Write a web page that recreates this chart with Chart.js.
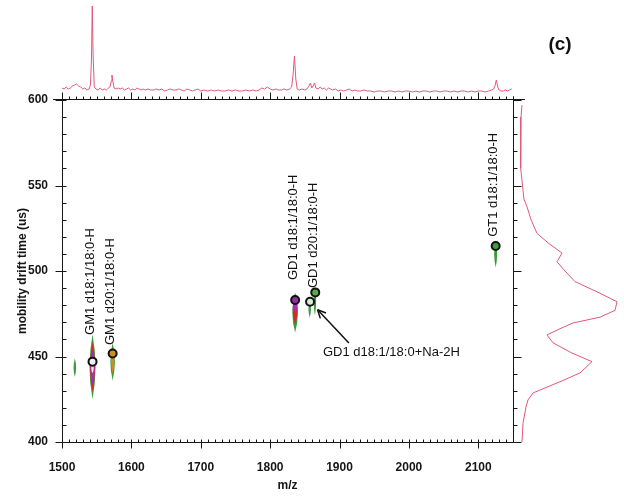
<!DOCTYPE html>
<html>
<head>
<meta charset="utf-8">
<script src="https://cdn.jsdelivr.net/npm/chart.js@4.4.1/dist/chart.umd.min.js"></script>
<style>
  html, body { margin: 0; padding: 0; background: #fff; }
  #wrap { position: relative; width: 624px; height: 497px; }
  #wrap canvas { position: absolute; }
</style>
</head>
<body>
<div id="wrap">
  <canvas id="main" width="624" height="497" style="left:0;top:0"></canvas>
  <canvas id="top" width="624" height="100" style="left:0;top:0"></canvas>
  <canvas id="side" width="111" height="497" style="left:513px;top:0"></canvas>
</div>
<script>
// spots (circled features)
const spotMz    = [1544, 1573, 1836, 1857.5, 1865, 2125];
const spotDrift = [447, 451.8, 483, 482, 487.5, 514.6];
const spotNames = ['GM1 d18:1/18:0-H', 'GM1 d20:1/18:0-H', 'GD1 d18:1/18:0-H',
                   'GD1 d18:1/18:0+Na-2H', 'GD1 d20:1/18:0-H', 'GT1 d18:1/18:0-H'];
// where the vertical label starts (drift time), null = arrow note
const labelDrift = [462.6, 456.7, 494.7, null, 490, 520];
const noteAt = [1876, 452.6]; // m/z, drift of the arrow note

// intensity streaks in the 2D map
const blobMz   = [1518.5, 1544, 1573, 1836, 1857, 1864.5, 2125];
const blobLow  = [438, 425, 436, 464, 472.5, 474, 502];
const blobHigh = [449, 463, 458, 487.5, 483, 491, 518];

// summed spectra  [m/z, intensity]  and  [drift, intensity]
const topSpectrum = [
  [1500,11],[1503,10],[1506,12],[1509,10],[1512,11],[1515,13],[1518,14],[1521,15],[1524,13],[1527,12],
  [1530,10],[1533,11],[1536,9],[1539,10],[1541,14],[1542.5,40],[1543.6,93],[1544.8,45],[1546.5,12],[1549,10],
  [1552,9],[1555,11],[1558,9],[1561,10],[1564,9],[1567,11],[1569,12],[1571,18],[1572,24],[1573,19],
  [1575,11],[1578,10],[1581,11],[1584,10],[1587,11],[1590,9],[1593,10],[1596,11],[1599,9],[1602,10],
  [1605,9],[1608,11],[1611,10],[1614,9],[1617,10],[1620,9],[1624,10],[1628,9],[1632,9],[1636,10],
  [1640,9],[1644,10],[1648,8],[1652,9],[1656,10],[1660,9],[1664,9],[1668,10],[1672,9],[1676,8],
  [1680,10],[1684,9],[1688,8],[1692,9],[1696,10],[1700,8],[1705,9],[1710,8],[1715,9],[1720,8],
  [1725,9],[1730,8],[1735,8],[1740,9],[1745,8],[1750,9],[1755,8],[1760,8],[1765,9],[1770,8],
  [1775,9],[1780,8],[1784,9],[1788,11],[1792,10],[1796,12],[1800,10],[1804,9],[1808,10],[1812,9],
  [1816,9],[1820,10],[1824,9],[1828,10],[1831,12],[1833,24],[1835,43],[1837,20],[1839,10],[1842,9],
  [1846,10],[1850,9],[1853,10],[1856,13],[1858,16],[1860,11],[1862,13],[1864,16],[1866,11],[1869,10],
  [1872,12],[1875,10],[1878,11],[1881,9],[1884,11],[1887,10],[1890,9],[1894,10],[1898,8],[1902,9],
  [1906,8],[1910,9],[1914,10],[1918,8],[1922,9],[1926,8],[1930,8],[1935,9],[1940,8],[1945,8],
  [1950,7],[1955,8],[1960,8],[1965,7],[1970,8],[1975,8],[1980,7],[1985,8],[1990,7],[1995,8],
  [2000,8],[2005,7],[2010,8],[2015,7],[2020,8],[2025,8],[2030,7],[2035,8],[2040,8],[2045,7],
  [2050,8],[2055,8],[2060,7],[2065,8],[2070,7],[2075,8],[2080,8],[2085,7],[2090,8],[2095,7],
  [2100,8],[2105,8],[2110,7],[2115,8],[2119,9],[2122,10],[2124,13],[2126,19],[2128,12],[2130,9],
  [2133,8],[2136,8],[2139,9],[2142,8],[2145,9],[2148,10]
];
const sideSpectrum = [
  [597,8],[590,7],[580,7],[570,6],[560,7],[553,8],[547,9],[542,10],[537.6,13],[530,17],
  [522,23],[516,35],[510.5,48],[505.4,43],[500,51],[493.8,61],[487,86],[482,103],[477,101],[473,86],
  [469.6,59],[466,45],[462.6,33],[458,39],[452,58],[447,78],[440.4,66],[436,49],[431.6,31],[428.7,19],
  [424.6,14],[420.5,12],[411,9],[400,8]
];

const FONT = "'Liberation Sans', Arial, sans-serif";
const INK = '#161616';
const PINK = '#e2587a';
Chart.defaults.font.family = FONT;
Chart.defaults.color = INK;

const G = '#3b9b3b', R = '#d42a2a', M = '#a82ccc', O = '#d98a1c';
// layers per streak: [from, to (fraction of length), width px, colour]
const blobLook = [
  [[0, 1, 2.5, G]],
  [[0, 1, 6, G], [0.12, 0.9, 5, R], [0.25, 0.78, 4, M], [0.44, 0.6, 2.5, '#f2e6f6']],
  [[0, 1, 4.5, G], [0.2, 0.82, 3, O]],
  [[0, 1, 5.5, G], [0.04, 0.8, 5, R], [0.04, 0.5, 4.5, M]],
  [[0, 1, 2.5, G]],
  [[0, 1, 2.5, G]],
  [[0, 1, 3, G]]
];

function lens(ctx, x, yTop, yBot, w, color) {
  const ym = (yTop + yBot) / 2;
  ctx.beginPath();
  ctx.moveTo(x, yTop);
  ctx.quadraticCurveTo(x + w, ym, x, yBot);
  ctx.quadraticCurveTo(x - w, ym, x, yTop);
  ctx.fillStyle = color;
  ctx.fill();
}

function seg(ctx, x1, y1, x2, y2) {
  ctx.beginPath();
  ctx.moveTo(x1, y1);
  ctx.lineTo(x2, y2);
  ctx.stroke();
}

const mapDecor = {
  id: 'mapDecor',
  beforeDatasetsDraw(chart) {
    const {ctx, scales: {x, y}} = chart;
    ctx.save();
    blobMz.forEach((mz, i) => {
      const px = x.getPixelForValue(mz);
      const yt = y.getPixelForValue(blobHigh[i]);
      const yb = y.getPixelForValue(blobLow[i]);
      const h = yb - yt;
      blobLook[i].forEach(([a, b, w, c]) => lens(ctx, px, yt + a * h, yt + b * h, w, c));
    });
    ctx.restore();
  },
  afterDraw(chart) {
    const {ctx, chartArea: ca, scales: {x, y}} = chart;
    ctx.save();
    ctx.strokeStyle = INK;
    ctx.lineWidth = 1;
    const L = Math.round(ca.left) + 0.5, Rr = Math.round(ca.right) + 0.5;
    const T = Math.round(ca.top) - 0.5, B = Math.round(ca.bottom) + 0.5;
    // frame
    seg(ctx, 53, T, 525, T);
    seg(ctx, L, T, L, B);
    seg(ctx, L, B, Rr, B);
    seg(ctx, Rr, T - 3, Rr, B);
    // x ticks (top spectrum axis + bottom axis)
    x.ticks.forEach(t => {
      const px = Math.round(x.getPixelForValue(t.value)) + 0.5;
      const major = t.value % 100 === 0;
      seg(ctx, px, T, px, T - (major ? 7 : 3));
      if (major) seg(ctx, px, B + 6, px, B - 3);
      else seg(ctx, px, B, px, B - 3);
    });
    // y ticks (left axis + right axis)
    y.ticks.forEach(t => {
      const py = Math.round(y.getPixelForValue(t.value)) + 0.5;
      const major = t.value % 50 === 0;
      seg(ctx, major ? L - 7 : L, py, L + 4, py);
      seg(ctx, Rr, py, Rr + (major ? 8 : 4), py);
    });

    // labels
    ctx.fillStyle = '#111';
    ctx.font = '13px ' + FONT;
    spotNames.forEach((name, i) => {
      if (labelDrift[i] === null) return;
      const px = x.getPixelForValue(blobMz[Math.min(i + (i > 0 ? 1 : 1), blobMz.length - 1)]);
      const lx = x.getPixelForValue(spotMz[i]) - 2;
      const ly = y.getPixelForValue(labelDrift[i]);
      ctx.save();
      ctx.translate(lx, ly);
      ctx.rotate(-Math.PI / 2);
      ctx.textAlign = 'left';
      ctx.textBaseline = 'middle';
      ctx.fillText(name, 0, 0);
      ctx.restore();
    });

    // arrow note
    const nx = x.getPixelForValue(noteAt[0]);
    const ny = y.getPixelForValue(noteAt[1]);
    ctx.textAlign = 'left';
    ctx.textBaseline = 'middle';
    ctx.fillText(spotNames[3], nx, ny);
    const tx = nx + 26, ty = ny - 9;
    const cx = x.getPixelForValue(spotMz[3]);
    const cy = y.getPixelForValue(spotDrift[3]);
    const dx = tx - cx, dy = ty - cy, d = Math.hypot(dx, dy);
    const hx = cx + dx / d * 11, hy = cy + dy / d * 11;
    ctx.lineWidth = 1.5;
    ctx.strokeStyle = '#111';
    seg(ctx, tx, ty, hx, hy);
    const ang = Math.atan2(dy, dx);
    [0.45, -0.45].forEach(a => {
      seg(ctx, hx, hy, hx + Math.cos(ang + a) * 9, hy + Math.sin(ang + a) * 9);
    });

    // panel tag
    ctx.font = 'bold 19px ' + FONT;
    ctx.textAlign = 'center';
    ctx.fillText('(c)', 560, 45);
    ctx.restore();
  }
};

new Chart(document.getElementById('main'), {
  type: 'scatter',
  data: {
    datasets: [{
      data: spotMz.map((m, i) => ({x: m, y: spotDrift[i]})),
      pointRadius: 4,
      borderWidth: 2,
      borderColor: '#111',
      backgroundColor: ['#f4eef6', '#c98d22', '#9a2aa8', '#d8ecd2', '#4fae45', '#3f9f3f']
    }]
  },
  options: {
    responsive: false,
    animation: false,
    layout: { padding: { left: 0, right: 111, top: 100, bottom: 0 } },
    scales: {
      x: {
        type: 'linear', min: 1500, max: 2150,
        grid: { display: false, drawTicks: false },
        border: { display: false },
        ticks: {
          stepSize: 10, autoSkip: false, maxRotation: 0, padding: 18,
          font: { size: 12, weight: 'bold' },
          callback: v => (v % 100 === 0 ? String(v) : '')
        },
        title: { display: true, text: 'm/z', font: { size: 12, weight: 'bold' }, padding: { top: 0, bottom: 4 } },
        afterFit: s => { s.height = 55; }
      },
      y: {
        min: 400, max: 600,
        grid: { display: false, drawTicks: false },
        border: { display: false },
        ticks: {
          stepSize: 10, autoSkip: false, padding: 14,
          font: { size: 12, weight: 'bold' },
          callback: v => (v % 50 === 0 ? String(v) : '')
        },
        title: { display: true, text: 'mobility drift time (us)', font: { size: 12, weight: 'bold' }, padding: { top: 15, bottom: 0 } },
        afterFit: s => { s.width = 62; }
      }
    },
    plugins: { legend: { display: false }, tooltip: { enabled: false } }
  },
  plugins: [mapDecor]
});

new Chart(document.getElementById('top'), {
  type: 'scatter',
  data: {
    datasets: [{
      data: topSpectrum.map(p => ({x: p[0], y: p[1]})),
      showLine: true, borderColor: PINK, borderWidth: 1, pointRadius: 0
    }]
  },
  options: {
    responsive: false,
    animation: false,
    layout: { padding: { left: 62, right: 111, top: 3, bottom: 1 } },
    scales: {
      x: { type: 'linear', min: 1500, max: 2150, display: false },
      y: { min: 0, max: 96, display: false }
    },
    plugins: { legend: { display: false }, tooltip: { enabled: false } }
  }
});

new Chart(document.getElementById('side'), {
  type: 'scatter',
  data: {
    datasets: [{
      data: sideSpectrum.map(p => ({x: p[1], y: p[0]})),
      showLine: true, borderColor: PINK, borderWidth: 1, pointRadius: 0
    }]
  },
  options: {
    responsive: false,
    animation: false,
    layout: { padding: { left: 1, right: 0, top: 100, bottom: 55 } },
    scales: {
      x: { type: 'linear', min: 0, max: 110, display: false },
      y: { min: 400, max: 600, display: false }
    },
    plugins: { legend: { display: false }, tooltip: { enabled: false } }
  }
});
</script>
</body>
</html>
